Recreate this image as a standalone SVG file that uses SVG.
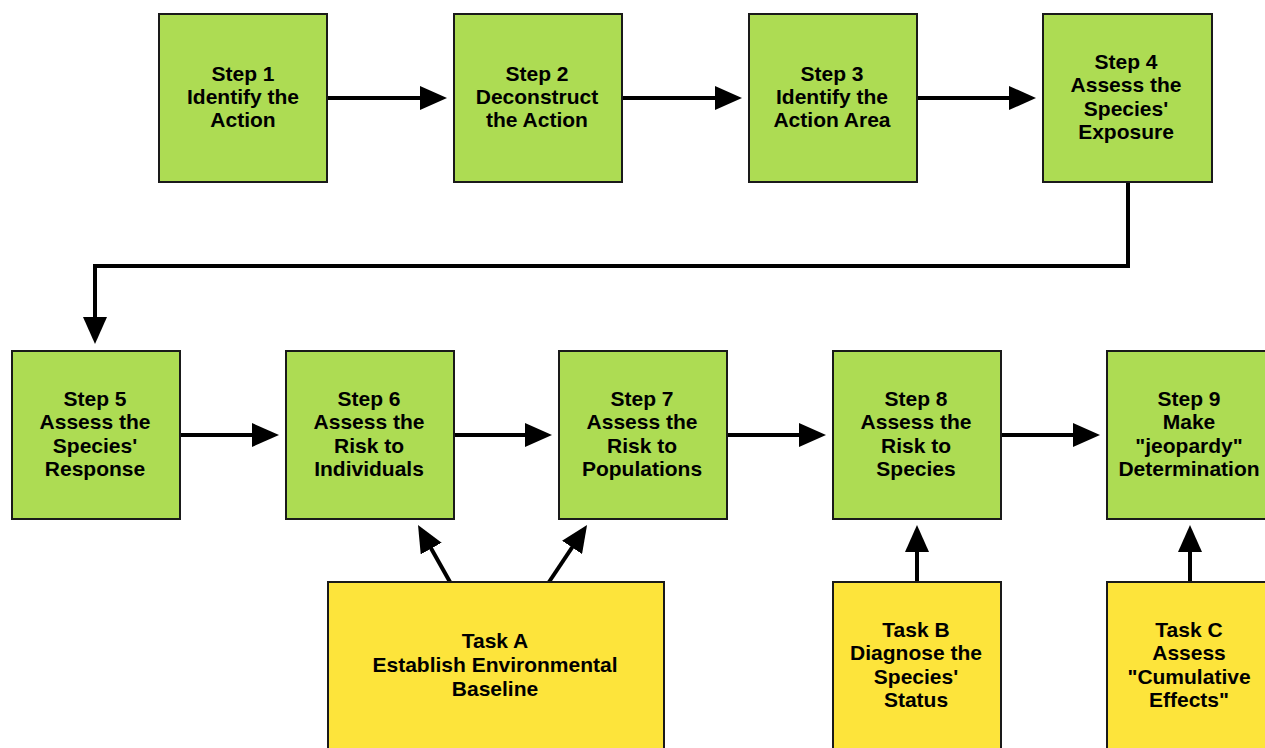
<svg xmlns="http://www.w3.org/2000/svg" width="1265" height="748" viewBox="0 0 1265 748">
<style>
.step{fill:#addc53;stroke:#1a1a1a;stroke-width:2}
.task{fill:#fde43b;stroke:#1a1a1a;stroke-width:2}
text{font-family:"Liberation Sans",Arial,sans-serif;font-weight:bold;font-size:21px;fill:#000;text-anchor:middle}
.conn{fill:none;stroke:#000;stroke-width:4;marker-end:url(#ah)}
</style>
<defs>
<marker id="ah" viewBox="0 0 27 24" refX="17" refY="12" markerWidth="27" markerHeight="24" markerUnits="userSpaceOnUse" orient="auto">
<path d="M0,0 L27,12 L0,24 Z" fill="#000"/>
</marker>
</defs>
<rect width="1265" height="748" fill="#fff"/>
<g id="connectors">
<line class="conn" x1="328" y1="98" x2="437" y2="98"/>
<line class="conn" x1="623" y1="98" x2="732" y2="98"/>
<line class="conn" x1="918" y1="98" x2="1026" y2="98"/>
<polyline class="conn" points="1128,183 1128,266 95,266 95,334"/>
<line class="conn" x1="181" y1="435" x2="269" y2="435"/>
<line class="conn" x1="455" y1="435" x2="542" y2="435"/>
<line class="conn" x1="728" y1="435" x2="816" y2="435"/>
<line class="conn" x1="1002" y1="435" x2="1090" y2="435"/>
<line class="conn" x1="450" y1="582" x2="422.9" y2="533.7"/>
<line class="conn" x1="549" y1="582" x2="581.5" y2="533.3"/>
<line class="conn" x1="917" y1="582" x2="917" y2="535"/>
<line class="conn" x1="1190" y1="582" x2="1190" y2="535"/>
</g>
<g id="step1"><rect class="step" x="159" y="14" width="168" height="168"/>
<text x="243"><tspan x="243" y="81">Step 1</tspan><tspan x="243" y="104">Identify the</tspan><tspan x="243" y="127">Action</tspan></text></g>
<g id="step2"><rect class="step" x="454" y="14" width="168" height="168"/>
<text x="537"><tspan x="537" y="81">Step 2</tspan><tspan x="537" y="104">Deconstruct</tspan><tspan x="537" y="127">the Action</tspan></text></g>
<g id="step3"><rect class="step" x="749" y="14" width="168" height="168"/>
<text x="832"><tspan x="832" y="81">Step 3</tspan><tspan x="832" y="104">Identify the</tspan><tspan x="832" y="127">Action Area</tspan></text></g>
<g id="step4"><rect class="step" x="1043" y="14" width="169" height="168"/>
<text x="1126"><tspan x="1126" y="69">Step 4</tspan><tspan x="1126" y="92">Assess the</tspan><tspan x="1126" y="116">Species'</tspan><tspan x="1126" y="139">Exposure</tspan></text></g>
<g id="step5"><rect class="step" x="12" y="351" width="168" height="168"/>
<text x="95"><tspan x="95" y="406">Step 5</tspan><tspan x="95" y="429">Assess the</tspan><tspan x="95" y="453">Species'</tspan><tspan x="95" y="476">Response</tspan></text></g>
<g id="step6"><rect class="step" x="286" y="351" width="168" height="168"/>
<text x="369"><tspan x="369" y="406">Step 6</tspan><tspan x="369" y="429">Assess the</tspan><tspan x="369" y="453">Risk to</tspan><tspan x="369" y="476">Individuals</tspan></text></g>
<g id="step7"><rect class="step" x="559" y="351" width="168" height="168"/>
<text x="642"><tspan x="642" y="406">Step 7</tspan><tspan x="642" y="429">Assess the</tspan><tspan x="642" y="453">Risk to</tspan><tspan x="642" y="476">Populations</tspan></text></g>
<g id="step8"><rect class="step" x="833" y="351" width="168" height="168"/>
<text x="916"><tspan x="916" y="406">Step 8</tspan><tspan x="916" y="429">Assess the</tspan><tspan x="916" y="453">Risk to</tspan><tspan x="916" y="476">Species</tspan></text></g>
<g id="step9"><rect class="step" x="1107" y="351" width="168" height="168"/>
<text x="1189"><tspan x="1189" y="406">Step 9</tspan><tspan x="1189" y="429">Make</tspan><tspan x="1189" y="453">"jeopardy"</tspan><tspan x="1189" y="476">Determination</tspan></text></g>
<g id="taskA"><rect class="task" x="328" y="582" width="336" height="170"/>
<text x="495"><tspan x="495" y="648">Task A</tspan><tspan x="495" y="672">Establish Environmental</tspan><tspan x="495" y="696">Baseline</tspan></text></g>
<g id="taskB"><rect class="task" x="833" y="582" width="168" height="170"/>
<text x="916"><tspan x="916" y="637">Task B</tspan><tspan x="916" y="660">Diagnose the</tspan><tspan x="916" y="684">Species'</tspan><tspan x="916" y="707">Status</tspan></text></g>
<g id="taskC"><rect class="task" x="1107" y="582" width="168" height="170"/>
<text x="1189"><tspan x="1189" y="637">Task C</tspan><tspan x="1189" y="660">Assess</tspan><tspan x="1189" y="684">"Cumulative</tspan><tspan x="1189" y="707">Effects"</tspan></text></g>
</svg>
